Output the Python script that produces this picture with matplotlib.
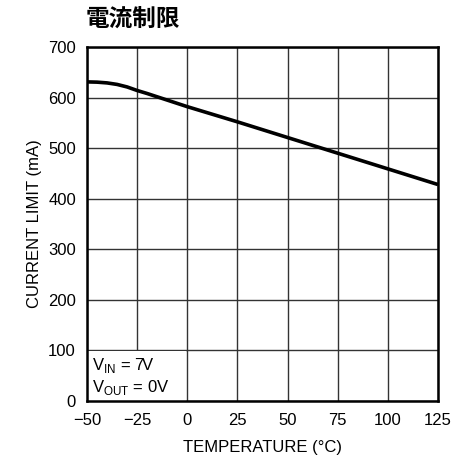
import matplotlib
matplotlib.use("Agg")
import matplotlib.pyplot as plt
from matplotlib.patches import Rectangle
from matplotlib import font_manager

# data
temp_c = [-50, -45, -40, -35, -30, -25, -20, -10, 0, 25, 50, 75, 100, 125]
limit_ma = [631, 630.5, 629, 626, 621, 614, 608, 595, 582, 552, 521, 490, 459, 428]

x_ticks = [-50, -25, 0, 25, 50, 75, 100, 125]
x_labels = ["\u221250", "\u221225", "0", "25", "50", "75", "100", "125"]
y_ticks = [0, 100, 200, 300, 400, 500, 600, 700]

names = {f.name for f in font_manager.fontManager.ttflist}
narrow = "Liberation Sans Narrow" if "Liberation Sans Narrow" in names else "Liberation Sans"

plt.rcParams["font.family"] = [narrow, "DejaVu Sans"]
plt.rcParams["mathtext.fontset"] = "custom"
plt.rcParams["mathtext.rm"] = narrow

fig = plt.figure(figsize=(4.67, 4.59), dpi=100)
ax = fig.add_axes([0.1863, 0.1264, 0.7516, 0.7712])

ax.plot(temp_c, limit_ma, color="black", lw=2.6, solid_capstyle="butt", zorder=3)

ax.set_xlim(-50, 125)
ax.set_ylim(0, 700)
ax.set_xticks(x_ticks)
ax.set_xticklabels(x_labels)
ax.set_yticks(y_ticks)
ax.grid(True, color="#333333", lw=1.0)
ax.tick_params(length=0, labelsize=12)
ax.tick_params(axis="x", pad=9)
ax.tick_params(axis="y", pad=8)
for s in ax.spines.values():
    s.set_linewidth(1.8)
    s.set_color("black")

ax.set_xlabel("TEMPERATURE (\u00b0C)", fontsize=12, labelpad=8)
ax.set_ylabel("CURRENT LIMIT (mA)", fontsize=12, labelpad=4)

# white label box in the lower-left cell pair
ax.add_patch(Rectangle((-50, 0), 49.4, 99, facecolor="white", edgecolor="none", zorder=1.6))
ax.text(0.015, 0.128, r"V$_{\mathrm{IN}}$ = 7V" + "\n" + r"V$_{\mathrm{OUT}}$ = 0V",
        transform=ax.transAxes, ha="left", va="top", fontsize=12,
        linespacing=1.25, zorder=4)

fig.text(0.183, 0.96, "電流制限", fontsize=17, fontweight="bold",
         family=["Noto Sans CJK JP", "DejaVu Sans"], ha="left", va="center")

fig.savefig("out.png", dpi=100)
